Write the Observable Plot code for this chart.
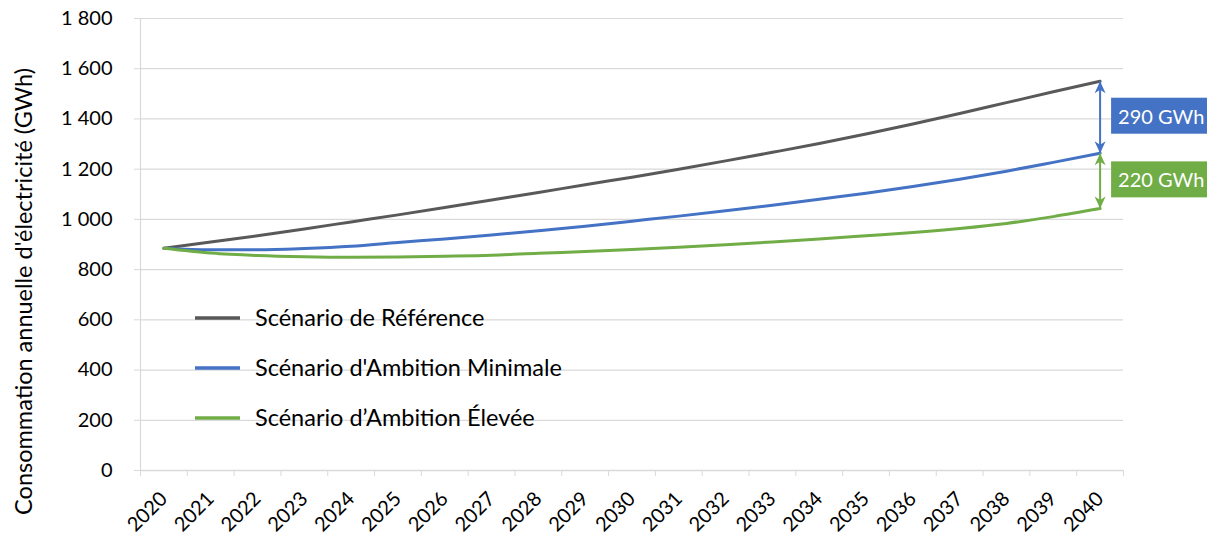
<!DOCTYPE html>
<html><head><meta charset="utf-8">
<script src="https://cdn.jsdelivr.net/npm/d3@7"></script>
<script src="https://cdn.jsdelivr.net/npm/@observablehq/plot@0.6"></script>
<style>
html,body{margin:0;padding:0;background:#fff;}
#chart{position:relative;width:1207px;height:535px;overflow:hidden}
#chart svg{overflow:visible}
</style></head><body><div id="chart"></div>
<script>
const years = [2020,2021,2022,2023,2024,2025,2026,2027,2028,2029,2030,2031,2032,2033,2034,2035,2036,2037,2038,2039,2040];
const reference = [885,910,935,962,990,1018,1047,1077,1107,1138,1168,1200,1233,1267,1302,1340,1380,1422,1465,1508,1550];
const minimale  = [885,879,879,884,893,908,922,938,955,973,993,1013,1034,1056,1080,1104,1131,1160,1192,1227,1263];
const elevee    = [885,866,856,851,849,850,853,857,865,872,880,889,899,910,922,935,948,964,984,1011,1043];
const seriesNames = ["Scénario de Référence", "Scénario d'Ambition Minimale", "Scénario d’Ambition Élevée"];
const seriesColors = ["#595959", "#4472C4", "#70AD47"];
const yTicks = [0,200,400,600,800,1000,1200,1400,1600,1800];
const gapLabels = ["290 GWh", "220 GWh"];
const yLabel = "Consommation annuelle d'électricité (GWh)";

const FONT = "Lato, 'Open Sans', sans-serif";
const W = 1207, H = 535, ML = 140, MR = 84, MT = 18, MB = 65;

const seriesValues = [reference, minimale, elevee];
const rows = [];
seriesValues.forEach((vals, i) => vals.forEach((v, j) => rows.push({year: years[j], value: v, series: seriesNames[i]})));
const last = years.length - 1;
const gaps = [
  {year: years[last], top: reference[last], bottom: minimale[last], label: gapLabels[0], color: seriesColors[1]},
  {year: years[last], top: minimale[last], bottom: elevee[last], label: gapLabels[1], color: seriesColors[2]}
];
const boundaries = d3.range(years[0] - 0.5, years[last] + 1, 1);
const fmtLocale = d3.formatLocale({thousands: " ", grouping: [3], decimal: ",", currency: ["", " €"]});
const yFmt = fmtLocale.format(",");

const chart = Plot.plot({
  width: W, height: H,
  marginLeft: ML, marginRight: MR, marginTop: MT, marginBottom: MB,
  style: {fontFamily: FONT, fontSize: "20px", color: "black", background: "white", overflow: "visible"},
  x: {domain: [years[0] - 0.5, years[last] + 0.5], axis: null},
  y: {domain: [0, 1800], axis: null},
  color: {domain: seriesNames, range: seriesColors},
  marks: [
    Plot.gridY(yTicks, {stroke: "#d9d9d9", strokeOpacity: 1, strokeWidth: 1.2}),
    Plot.ruleX([years[0] - 0.5], {stroke: "#d9d9d9", strokeWidth: 1.2}),
    Plot.ruleY([0], {stroke: "#d9d9d9", strokeWidth: 1.4}),
    Plot.axisY({ticks: yTicks, tickSize: 6, tickPadding: 22, tickFormat: yFmt, label: null, stroke: "#d9d9d9", fill: "black", fontSize: 20}),
    Plot.axisX({ticks: boundaries, tickSize: 6, tickFormat: () => "", label: null, stroke: "#d9d9d9"}),
    Plot.axisX({ticks: years, tickSize: 0, tickPadding: 25, tickRotate: -45, tickFormat: d => String(d), label: null, fill: "black", fontSize: 20}),
    Plot.text([yLabel], {frameAnchor: "left", dx: -116, dy: 47, rotate: -90, fontSize: 23.5, fill: "black", textAnchor: "middle"}),
    Plot.line(rows, {x: "year", y: "value", z: "series", stroke: "series", strokeWidth: 3, curve: "monotone-x"}),
    Plot.link(gaps, {x1: "year", x2: "year", y1: "top", y2: "bottom", stroke: "color", strokeWidth: 2, markerStart: "arrow", markerEnd: "arrow"}),
    Plot.text(gaps, {x: "year", y: d => (d.top + d.bottom) / 2, text: "label", dx: 18, textAnchor: "start", fill: "white", fontSize: 20})
  ]
});
document.getElementById("chart").appendChild(chart);

const svg = d3.select(chart);
// stealth arrowheads
svg.selectAll("marker").each(function() {
  const m = d3.select(this);
  const c = m.attr("stroke") || m.select("path").attr("stroke") || "#000";
  m.attr("viewBox", "-13 -6.5 14 13").attr("markerUnits", "userSpaceOnUse")
   .attr("markerWidth", 14).attr("markerHeight", 13).attr("orient", "auto-start-reverse")
   .attr("fill", c).attr("stroke", "none");
  m.selectAll("path").attr("d", "M0,0L-12,-5.5L-8.5,0L-12,5.5Z").attr("fill", c).attr("stroke", "none");
});
// boxes behind gap labels (same local coordinate system as the text)
svg.selectAll("text").filter(function() { return gapLabels.includes(this.textContent); }).each(function() {
  const t = this, bb = t.getBBox();
  const i = gapLabels.indexOf(t.textContent);
  const cy = bb.y + bb.height / 2;
  const r = document.createElementNS("http://www.w3.org/2000/svg", "rect");
  const tr = t.getAttribute("transform");
  if (tr) r.setAttribute("transform", tr);
  r.setAttribute("x", bb.x - 7);
  r.setAttribute("y", cy - 18);
  r.setAttribute("width", bb.width + 40);
  r.setAttribute("height", 36);
  r.setAttribute("fill", gaps[i].color);
  t.parentNode.insertBefore(r, t);
});
// legend
const lg = svg.append("g").attr("font-family", FONT).attr("font-size", 23.5).attr("text-anchor", "start");
seriesNames.forEach((name, i) => {
  const y = 318 + i * 50;
  lg.append("line").attr("x1", 195).attr("x2", 240).attr("y1", y).attr("y2", y)
    .attr("stroke", seriesColors[i]).attr("stroke-width", 3.5);
  lg.append("text").attr("x", 255).attr("y", y).attr("dy", "0.35em").attr("fill", "black").text(name);
});
</script></body></html>
